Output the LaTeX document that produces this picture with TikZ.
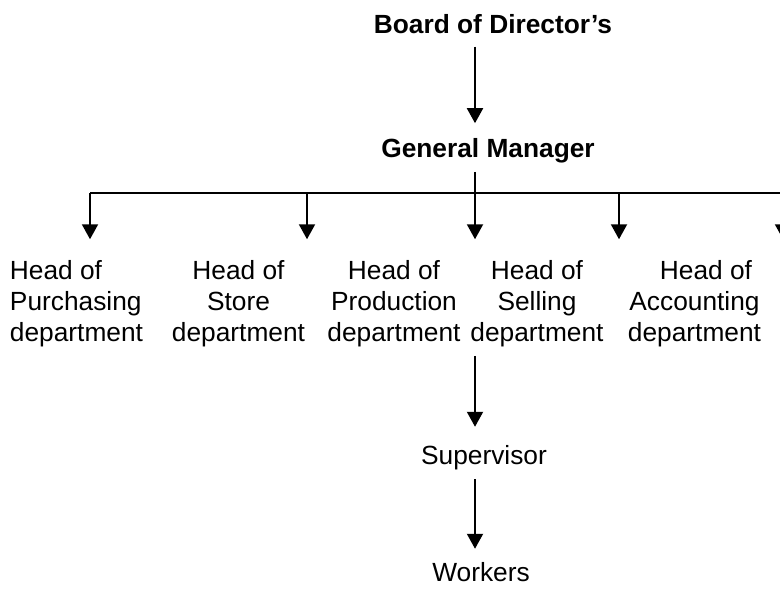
\documentclass[tikz,border=0pt]{standalone}
\usepackage{fontspec}
\setmainfont{Liberation Sans}
\usetikzlibrary{arrows.meta}
\begin{document}
\begin{tikzpicture}[x=0.5pt, y=-0.5pt, line width=1pt,
    >={Triangle[width=8pt,length=7.5pt]},
    txt/.style={font=\fontsize{13.15}{15.5}\selectfont, inner xsep=0pt, inner ysep=4pt},
    boss/.style={txt, font=\fontsize{13.15}{15.5}\selectfont\bfseries},
    dept/.style={txt, align=center}]
  \useasboundingbox (0,0) rectangle (780,590);
  \node[boss] (board) at (493,24) {Board of Director’s};
  \node[boss] (gm) at (488,150.5) {General Manager};
  % heads of departments
  \node[dept, align=left] (purch) at (76.5,303.5) {Head of\\Purchasing\\department};
  \node[dept] (store) at (238.5,303.5) {Head of\\Store\\department};
  \node[dept] (prod) at (394,303.5) {Head of\\Production\\department};
  \node[dept] (sell) at (537,303.5) {Head of\\Selling\\department};
  \node[dept] (acct) at (694.5,303.5) {\hspace*{11.5pt}Head of\\Accounting\\department};
  \node[txt] (sup) at (484,458) {Supervisor};
  \node[txt] (work) at (481,572.4) {Workers};
  % bus
  \coordinate (d1) at (90,193);
  \coordinate (d2) at (307,193);
  \coordinate (d3) at (475,193);
  \coordinate (d4) at (619,193);
  \coordinate (d5) at (783,193);
  \coordinate (busend) at (800,193);
  \draw[->, shorten <=2pt, shorten >=3pt] (board.south -| d3) -- (gm.north -| d3);
  \draw (gm.south -| d3) -- (d3);
  \draw (d1) -- (busend);
  \foreach \d/\n in {d1/purch, d2/store, d3/prod, d4/sell, d5/acct}
    \draw[->, shorten >=6pt] (\d) -- (\d |- \n.north);
  \draw[->, shorten >=5pt] (prod.south -| d3) -- (sup.north -| d3);
  \draw[->, shorten >=2.5pt] (sup.south -| d3) -- (work.north -| d3);
\end{tikzpicture}
\end{document}
